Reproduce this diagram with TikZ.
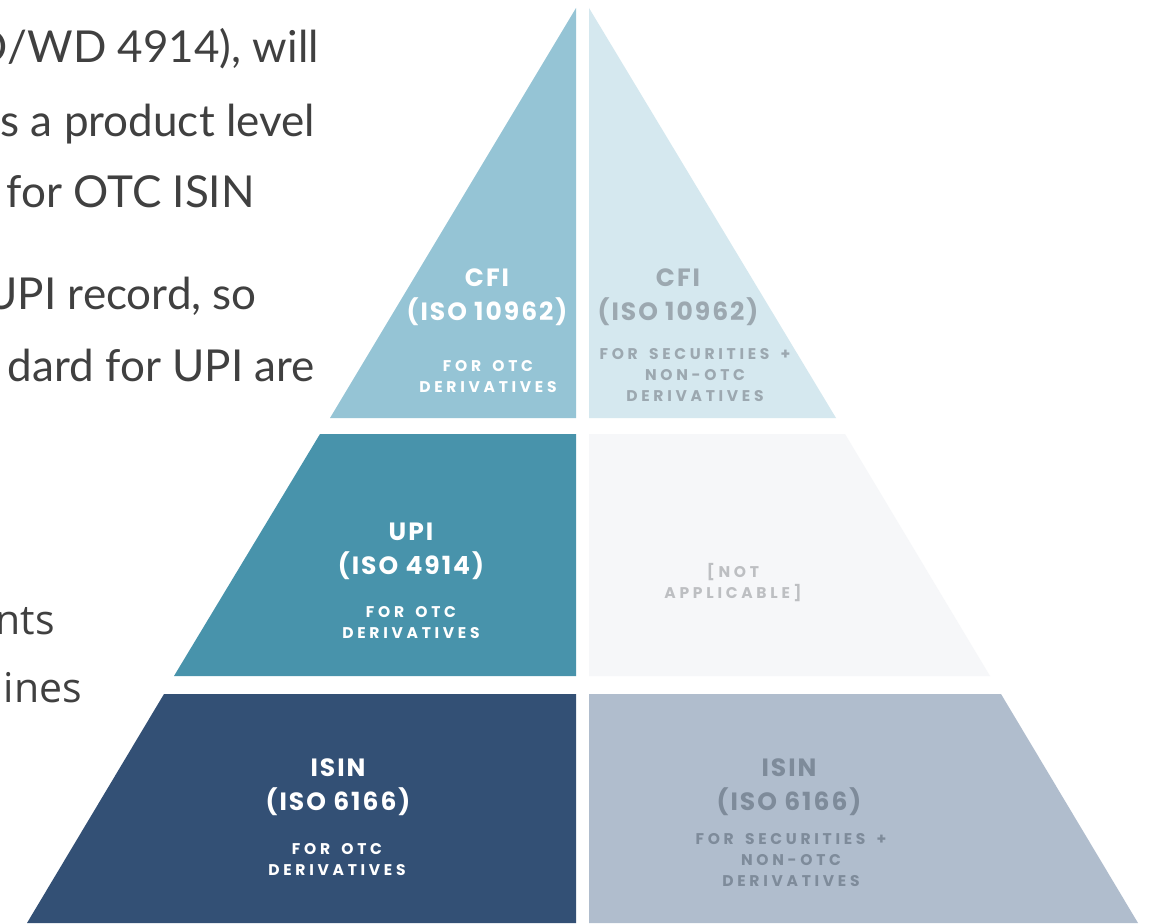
\documentclass[tikz,border=0pt]{standalone}
\usepackage{fontspec}
\setmainfont{Lato}
\newfontfamily\bodyfont{Lato}
\newfontfamily\bodyfontb{Open Sans}
\newfontfamily\titlefont{Poppins}[LetterSpace=8]
\newfontfamily\smallfont{Poppins}[LetterSpace=24,WordSpace=1.6]
\definecolor{cfiL}{HTML}{95C4D5}
\definecolor{cfiR}{HTML}{D5E8EF}
\definecolor{upiL}{HTML}{4893AB}
\definecolor{upiR}{HTML}{F6F7F9}
\definecolor{isinL}{HTML}{335075}
\definecolor{isinR}{HTML}{B0BDCD}
\definecolor{txtR1}{HTML}{9CA8B0}
\definecolor{txtNA}{HTML}{BDBFC2}
\definecolor{txtR3}{HTML}{7E8B9A}
\definecolor{bodytxt}{HTML}{404040}
\tikzset{
  para/.style={anchor=base east, inner sep=0pt, text=bodytxt, font=\bodyfont\fontsize{44}{52}\selectfont},
  parab/.style={anchor=base east, inner sep=0pt, text=bodytxt, font=\bodyfontb\fontsize{41}{48}\selectfont},
  ttl/.style={align=center, inner sep=0pt, font=\titlefont\bfseries\fontsize{25}{34}\selectfont},
  sub/.style={align=center, inner sep=0pt, font=\smallfont\bfseries\fontsize{15.5}{21}\selectfont},
}
\begin{document}
\begin{tikzpicture}[x=1pt,y=-1pt]
\clip (0,0) rectangle (1153,923);
\fill[white] (0,0) rectangle (1153,923);
% pyramid blocks
\fill[cfiL]  (576,8) -- (576,418) -- (330,418) -- cycle;
\fill[cfiR]  (589,8) -- (836,418) -- (589,418) -- cycle;
\fill[upiL]  (320,434) -- (576,434) -- (576,676) -- (174,676) -- cycle;
\fill[upiR]  (589,434) -- (845,434) -- (990,676) -- (589,676) -- cycle;
\fill[isinL] (164,694) -- (576,694) -- (576,923) -- (27,923) -- cycle;
\fill[isinR] (589,694) -- (1001,694) -- (1138,923) -- (589,923) -- cycle;
% left paragraph (cut at the left edge)
\node[para] (p1) at (319,63)  {O/WD 4914), will};
\node[para] (p2) at (315,136) {s a product level};
\node[para] (p3) at (255,207) {for OTC ISIN};
\node[para] (p4) at (257,309) {UPI record, so};
\node[para] (p5) at (315,381) {dard for UPI are};
\node[parab] (p6) at (55,634) {nts};
\node[parab] (p7) at (82,702) {mines};
% labels
\node[ttl, text=white] (cfiLt) at (487,297) {CFI\\(ISO 10962)};
\node[sub, text=white] (cfiLs) at (488,377) {FOR OTC\\DERIVATIVES};
\node[ttl, text=txtR1] (cfiRt) at (678,297) {CFI\\(ISO 10962)};
\node[sub, text=txtR1] (cfiRs) at (695,375) {FOR SECURITIES +\\NON-OTC\\DERIVATIVES};
\node[ttl, text=white] (upiLt) at (411,551) {UPI\\(ISO 4914)};
\node[sub, text=white] (upiLs) at (411,623) {FOR OTC\\DERIVATIVES};
\node[sub, text=txtNA] (upiRs) at (733,583) {[NOT\\APPLICABLE]};
\node[ttl, text=white] (isinLt) at (338,787) {ISIN\\(ISO 6166)};
\node[sub, text=white] (isinLs) at (337,860) {FOR OTC\\DERIVATIVES};
\node[ttl, text=txtR3] (isinRt) at (789,787) {ISIN\\(ISO 6166)};
\node[sub, text=txtR3] (isinRs) at (791,860) {FOR SECURITIES +\\NON-OTC\\DERIVATIVES};
\end{tikzpicture}
\end{document}
